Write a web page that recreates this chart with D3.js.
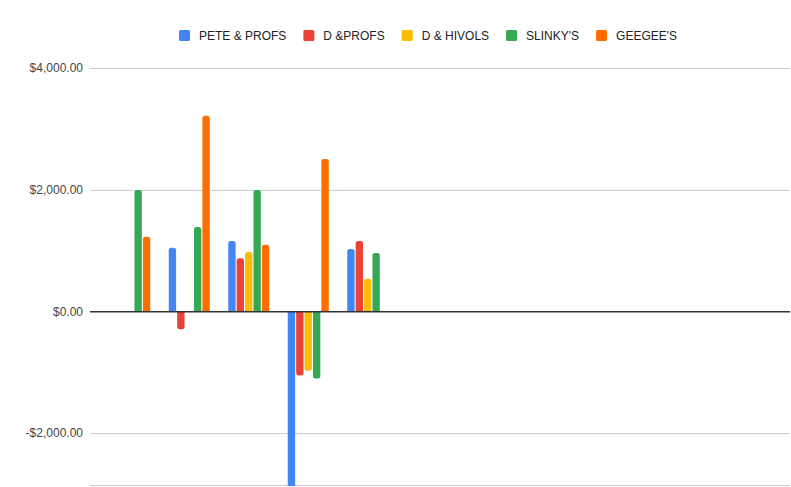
<!DOCTYPE html>
<html>
<head>
<meta charset="utf-8">
<script src="https://cdn.jsdelivr.net/npm/d3@7"></script>
<style>
  body { margin: 0; background: #fff; }
  text { font-family: Arial, "Liberation Sans", sans-serif; }
</style>
</head>
<body>
<div id="chart"></div>
<script>
// data
const categories = ["1", "2", "3", "4", "5"];
const seriesNames = ["PETE & PROFS", "D &PROFS", "D & HIVOLS", "SLINKY'S", "GEEGEE'S"];
const petePROFS = [null, 1050, 1160, -3100, 1030];
const dPROFS    = [null, -290, 880, -1050, 1160];
const dHIVOLS   = [null, null, 980, -970, 540];
const slinkys   = [2000, 1390, 2000, -1100, 965];
const geegees   = [1230, 3220, 1100, 2510, null];
const yTicks = [-2000, 0, 2000, 4000];
const colors = ["#4285f4", "#ea4335", "#fbbc04", "#34a853", "#ff6d01"];

const seriesValues = [petePROFS, dPROFS, dHIVOLS, slinkys, geegees];

const W = 791, H = 487;
const plot = { left: 90, right: 790, top: 68.3, bottom: 486 };
const groupStep = 59.5, groupStart = 99.5;

const svg = d3.select("#chart").append("svg")
  .attr("width", W)
  .attr("height", H);

const y = d3.scaleLinear()
  .domain([-2865, 4000])
  .range([plot.bottom, plot.top]);

const x0 = d3.scaleBand()
  .domain(categories)
  .range([groupStart, groupStart + groupStep * categories.length])
  .paddingInner(0.328)
  .paddingOuter(0.164);

const x1 = d3.scaleBand()
  .domain(seriesNames)
  .range([0, x0.bandwidth() + 1])
  .paddingInner(1 / 8);

// gridlines
svg.append("g")
  .selectAll("line")
  .data(yTicks.filter(d => d !== 0))
  .join("line")
  .attr("x1", plot.left)
  .attr("x2", plot.right)
  .attr("y1", d => Math.round(y(d)) + 0.5)
  .attr("y2", d => Math.round(y(d)) + 0.5)
  .attr("stroke", "#cccccc");

svg.append("line")
  .attr("x1", plot.left)
  .attr("x2", plot.right)
  .attr("y1", plot.bottom - 0.5)
  .attr("y2", plot.bottom - 0.5)
  .attr("stroke", "#cccccc");

// y labels
const fmt = d => (d < 0 ? "-" : "") + "$" + d3.format(",.2f")(Math.abs(d));
svg.append("g")
  .selectAll("text")
  .data(yTicks)
  .join("text")
  .attr("x", 83)
  .attr("y", d => y(d) + 4)
  .attr("text-anchor", "end")
  .attr("font-size", 12)
  .attr("fill", "#444")
  .text(fmt);

// bars
svg.append("clipPath").attr("id", "clip")
  .append("rect")
  .attr("x", plot.left).attr("y", 0)
  .attr("width", plot.right - plot.left).attr("height", plot.bottom);

const bars = [];
categories.forEach((c, i) => {
  seriesNames.forEach((s, j) => {
    const v = seriesValues[j][i];
    if (v !== null) bars.push({ cat: c, series: s, value: v, color: colors[j] });
  });
});

function barPath(d) {
  const bx = x0(d.cat) + x1(d.series);
  const bw = x1.bandwidth();
  const y0 = y(0);
  const yv = y(d.value);
  const r = Math.min(2.5, Math.abs(yv - y0) / 2);
  if (d.value >= 0) {
    return `M${bx},${y0}V${yv + r}Q${bx},${yv} ${bx + r},${yv}H${bx + bw - r}Q${bx + bw},${yv} ${bx + bw},${yv + r}V${y0}Z`;
  }
  return `M${bx},${y0}V${yv - r}Q${bx},${yv} ${bx + r},${yv}H${bx + bw - r}Q${bx + bw},${yv} ${bx + bw},${yv - r}V${y0}Z`;
}

svg.append("g")
  .attr("clip-path", "url(#clip)")
  .selectAll("path")
  .data(bars)
  .join("path")
  .attr("d", barPath)
  .attr("fill", d => d.color);

// zero baseline
svg.append("line")
  .attr("x1", plot.left)
  .attr("x2", plot.right)
  .attr("y1", y(0))
  .attr("y2", y(0))
  .attr("stroke", "#333")
  .attr("stroke-width", 1.5);

// legend
const legend = svg.append("g").attr("transform", "translate(179,35.5)");
let lx = 0;
seriesNames.forEach((s, i) => {
  const item = legend.append("g").attr("transform", `translate(${lx},0)`);
  item.append("rect")
    .attr("x", 0).attr("y", -5.5)
    .attr("width", 11).attr("height", 11)
    .attr("rx", 1.5)
    .attr("fill", colors[i]);
  const t = item.append("text")
    .attr("x", 20)
    .attr("y", 4.5)
    .attr("font-size", 12)
    .attr("fill", "#222")
    .text(s);
  lx += 20 + t.node().getComputedTextLength() + 17;
});
</script>
</body>
</html>
